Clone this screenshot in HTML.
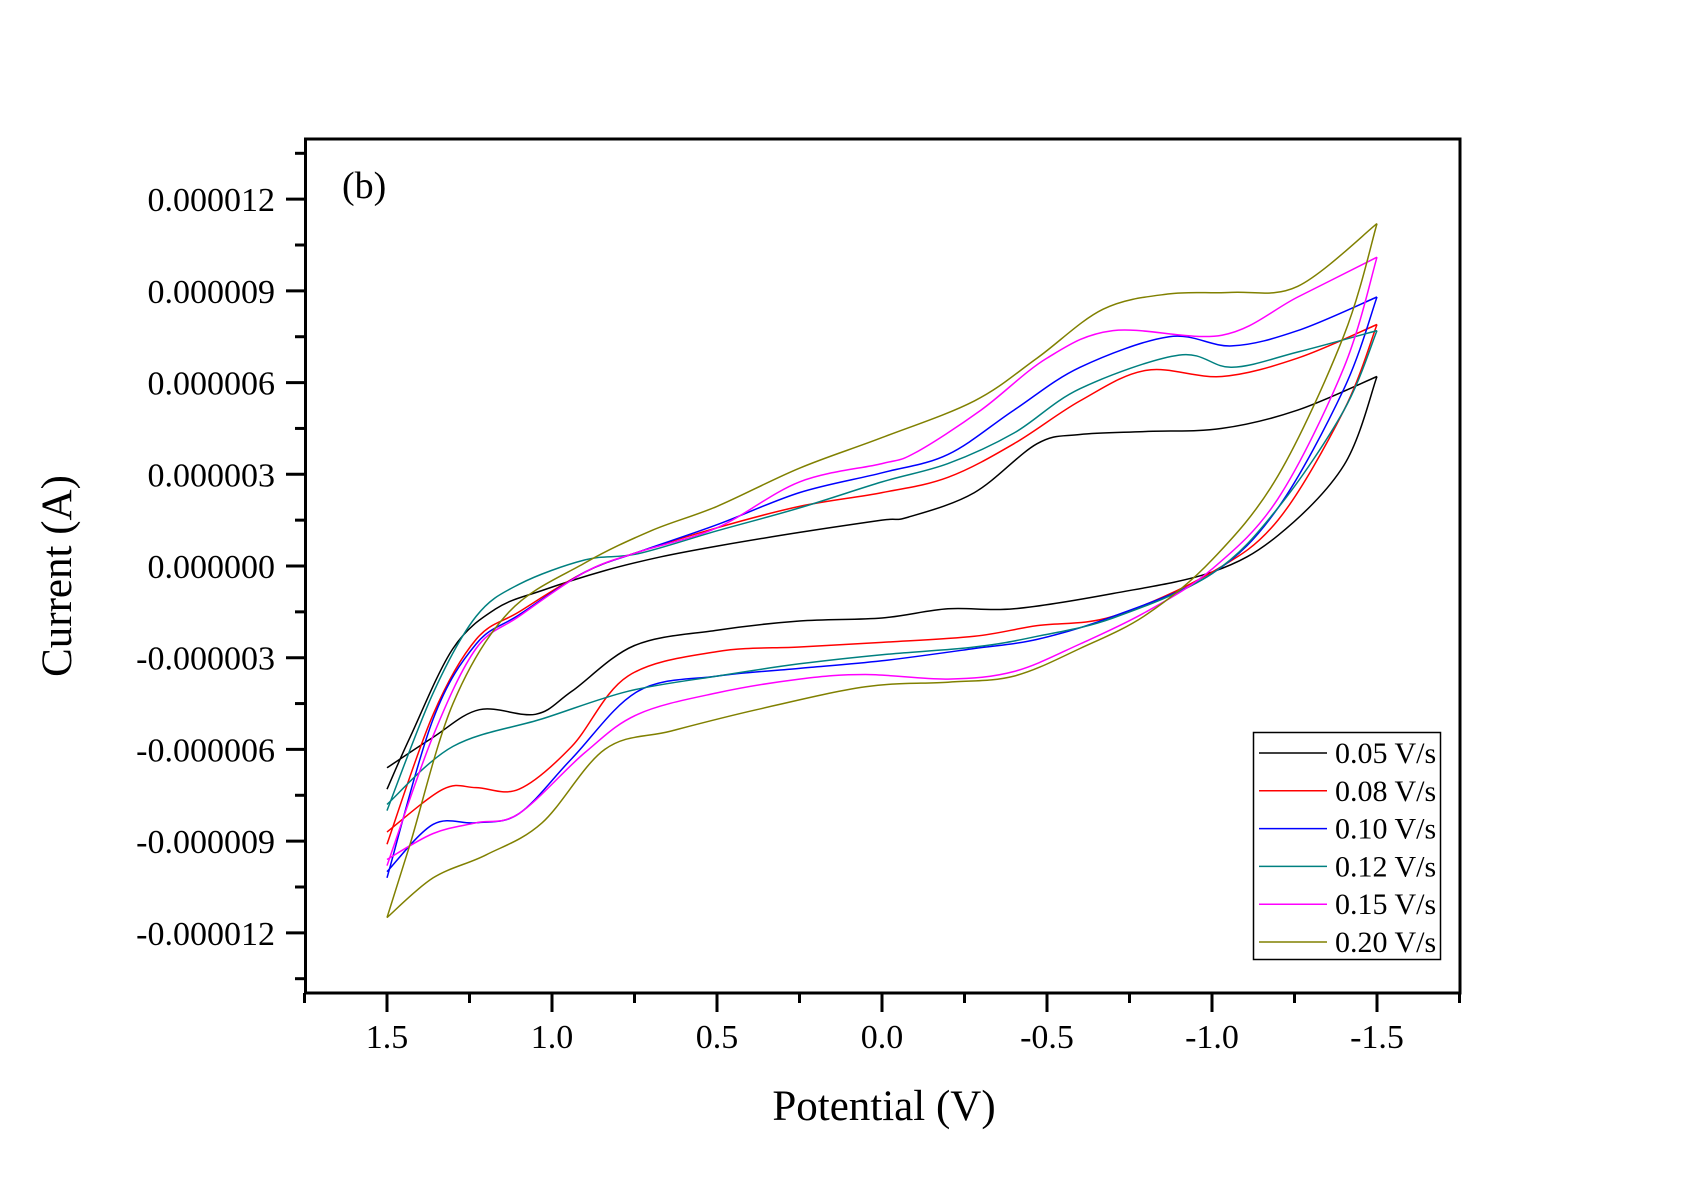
<!DOCTYPE html>
<html><head><meta charset="utf-8"><style>
html,body{margin:0;padding:0;background:#fff;}
svg{display:block;font-family:"Liberation Serif",serif;}
</style></head><body>
<svg id="chart" width="1695" height="1191" viewBox="0 0 1695 1191" xmlns="http://www.w3.org/2000/svg">
<rect width="1695" height="1191" fill="#fff"/>
<g id="series"></g>
<rect x="305.5" y="139" width="1154.5" height="854" fill="none" stroke="#000" stroke-width="3"/>
<g id="ticks"></g>
<text x="342" y="198" font-size="38">(b)</text>
<text x="884" y="1120" font-size="43" text-anchor="middle">Potential (V)</text>
<text transform="translate(71,576) rotate(-90)" font-size="43" text-anchor="middle">Current (A)</text>
<g id="legend">
<rect x="1253.5" y="732.5" width="187" height="227" fill="#fff" stroke="#000" stroke-width="1.5"/>
</g>
</svg>
<script>
const labels=["0.05 V/s","0.08 V/s","0.10 V/s","0.12 V/s","0.15 V/s","0.20 V/s"];
const colors=["#000000","#ff0000","#0000ff","#008080","#ff00ff","#808000"];
// branch A: from 1.5 V toward -1.5 V ; branch B: from -1.5 V back to 1.5 V (current in µA)
const aV=[
[1.5,1.36,1.22,1.05,0.94,0.75,0.5,0.25,0,-0.2,-0.4,-0.7,-1.0,-1.2,-1.4,-1.5],
[1.5,1.33,1.23,1.1,0.94,0.77,0.5,0.25,0,-0.28,-0.47,-0.7,-1.0,-1.2,-1.4,-1.5],
[1.5,1.36,1.23,1.1,0.94,0.74,0.5,0.25,0,-0.28,-0.47,-0.7,-1.0,-1.2,-1.4,-1.5],
[1.5,1.3,1.03,0.77,0.5,0.25,0,-0.28,-0.47,-0.7,-1.0,-1.2,-1.4,-1.5],
[1.5,1.36,1.23,1.1,0.9,0.74,0.5,0.25,0.05,-0.2,-0.4,-0.6,-0.8,-1.0,-1.2,-1.4,-1.5],
[1.5,1.36,1.2,1.03,0.84,0.64,0.38,0.05,-0.2,-0.4,-0.6,-0.8,-1.0,-1.2,-1.4,-1.5]];
const aI=[
[-6.6,-5.6,-4.7,-4.85,-4.1,-2.6,-2.1,-1.8,-1.7,-1.4,-1.4,-0.9,-0.2,1.0,3.3,6.2],
[-8.7,-7.3,-7.25,-7.3,-5.9,-3.6,-2.8,-2.65,-2.5,-2.3,-1.95,-1.65,-0.2,1.5,5.1,7.9],
[-10.0,-8.45,-8.4,-8.1,-6.3,-4.1,-3.6,-3.35,-3.1,-2.7,-2.4,-1.65,-0.25,1.9,5.8,8.8],
[-7.8,-5.9,-5.0,-4.1,-3.6,-3.2,-2.9,-2.65,-2.3,-1.7,-0.25,1.9,5.1,7.7],
[-9.6,-8.75,-8.4,-8.1,-6.1,-4.85,-4.15,-3.7,-3.55,-3.7,-3.45,-2.55,-1.5,-0.1,2.2,6.5,10.1],
[-11.5,-10.2,-9.45,-8.4,-6.0,-5.4,-4.7,-3.95,-3.8,-3.6,-2.7,-1.6,0.2,2.95,7.55,11.2]];
const bV=[
[-1.5,-1.26,-1.03,-0.8,-0.6,-0.47,-0.28,-0.08,0,0.25,0.5,0.67,0.84,1.03,1.17,1.3,1.43,1.5],
[-1.5,-1.26,-1.03,-0.8,-0.6,-0.4,-0.2,0,0.25,0.5,0.74,0.9,1.1,1.23,1.36,1.5],
[-1.5,-1.26,-1.06,-0.87,-0.6,-0.4,-0.2,0,0.25,0.5,0.74,0.9,1.1,1.23,1.36,1.5],
[-1.5,-1.26,-1.06,-0.9,-0.6,-0.4,-0.2,0,0.25,0.5,0.74,0.9,1.1,1.23,1.36,1.5],
[-1.5,-1.26,-1.03,-0.7,-0.5,-0.3,-0.1,0,0.25,0.5,0.74,0.9,1.1,1.23,1.36,1.5],
[-1.5,-1.26,-1.06,-0.87,-0.67,-0.47,-0.28,0,0.25,0.5,0.7,0.9,1.13,1.3,1.43,1.5]];
const bI=[
[6.2,5.1,4.5,4.4,4.3,4.0,2.4,1.6,1.5,1.1,0.65,0.3,-0.15,-0.8,-1.4,-2.7,-5.6,-7.3],
[7.9,6.8,6.2,6.4,5.4,4.0,2.9,2.4,1.95,1.25,0.45,-0.2,-1.5,-2.4,-4.85,-9.1],
[8.8,7.7,7.2,7.5,6.5,5.1,3.65,3.05,2.4,1.35,0.45,-0.2,-1.6,-2.55,-5.0,-10.2],
[7.7,7.0,6.5,6.9,5.8,4.35,3.35,2.75,1.9,1.15,0.4,0.2,-0.6,-1.65,-4.15,-8.0],
[10.1,8.8,7.55,7.7,6.8,5.1,3.7,3.35,2.75,1.25,0.45,-0.2,-1.65,-2.7,-5.55,-9.8],
[11.2,9.15,8.95,8.9,8.4,6.8,5.4,4.2,3.2,1.95,1.15,0.1,-1.5,-4.5,-9.1,-11.5]];
const xTicks=[1.5,1.0,0.5,0.0,-0.5,-1.0,-1.5];
const xTickLabels=["1.5","1.0","0.5","0.0","-0.5","-1.0","-1.5"];
const yTicks=[12,9,6,3,0,-3,-6,-9,-12];
const yTickLabels=["0.000012","0.000009","0.000006","0.000003","0.000000","-0.000003","-0.000006","-0.000009","-0.000012"];

const NS="http://www.w3.org/2000/svg";
function xs(v){return 387+(1.5-v)*330;}
function ys(i){return 566-i*30.57;}
function path(pts){
  let d="M"+pts[0][0].toFixed(1)+","+pts[0][1].toFixed(1);
  for(let k=0;k<pts.length-1;k++){
    const p0=pts[Math.max(0,k-1)],p1=pts[k],p2=pts[k+1],p3=pts[Math.min(pts.length-1,k+2)];
    const c1=[p1[0]+(p2[0]-p0[0])/6,p1[1]+(p2[1]-p0[1])/6];
    const c2=[p2[0]-(p3[0]-p1[0])/6,p2[1]-(p3[1]-p1[1])/6];
    d+=" C"+c1[0].toFixed(1)+","+c1[1].toFixed(1)+" "+c2[0].toFixed(1)+","+c2[1].toFixed(1)+" "+p2[0].toFixed(1)+","+p2[1].toFixed(1);
  }
  return d;
}
const sg=document.getElementById("series");
for(let s=0;s<labels.length;s++){
  const a=aV[s].map((v,k)=>[xs(v),ys(aI[s][k])]);
  const b=bV[s].map((v,k)=>[xs(v),ys(bI[s][k])]);
  const p1=document.createElementNS(NS,"path");
  p1.setAttribute("d",path(a));
  p1.setAttribute("fill","none");p1.setAttribute("stroke",colors[s]);p1.setAttribute("stroke-width","1.5");
  
  
  sg.appendChild(p1);
  const p2=document.createElementNS(NS,"path");
  p2.setAttribute("d",path(b));
  p2.setAttribute("fill","none");p2.setAttribute("stroke",colors[s]);p2.setAttribute("stroke-width","1.5");
  
  
  sg.appendChild(p2);
}
const tg=document.getElementById("ticks");
function line(x1,y1,x2,y2,name){
  const l=document.createElementNS(NS,"line");
  l.setAttribute("x1",x1);l.setAttribute("y1",y1);l.setAttribute("x2",x2);l.setAttribute("y2",y2);
  l.setAttribute("stroke","#000");l.setAttribute("stroke-width","3");
  
  
  tg.appendChild(l);
}
function text(x,y,str,anchor,size,name){
  const t=document.createElementNS(NS,"text");
  t.setAttribute("x",x);t.setAttribute("y",y);t.setAttribute("text-anchor",anchor);t.setAttribute("font-size",size);
  t.textContent=str;
  
  
  tg.appendChild(t);
}
xTicks.forEach((v,k)=>{
  const x=xs(v);
  line(x,993,x,1012,"x-tick");
  text(x,1048,xTickLabels[k],"middle",34,"x-tick-label");
});
for(let v=1.75;v>=-1.751;v-=0.5){line(xs(v),993,xs(v),1003,"x-minor-tick");}
yTicks.forEach((v,k)=>{
  const y=ys(v);
  line(305,y,286,y,"y-tick");
  text(275,y+12,yTickLabels[k],"end",34,"y-tick-label");
});
for(let v=13.5;v>=-13.6;v-=3){line(305,ys(v),295,ys(v),"y-minor-tick");}
const lg=document.getElementById("legend");
labels.forEach((lab,k)=>{
  const y=753+k*37.8;
  const l=document.createElementNS(NS,"line");
  l.setAttribute("x1",1259);l.setAttribute("x2",1327);l.setAttribute("y1",y);l.setAttribute("y2",y);
  l.setAttribute("stroke",colors[k]);l.setAttribute("stroke-width","1.5");
  
  
  lg.appendChild(l);
  const t=document.createElementNS(NS,"text");
  t.setAttribute("x",1335);t.setAttribute("y",y+10);t.setAttribute("font-size",30);
  t.textContent=lab;
  
  
  lg.appendChild(t);
});
</script>
</body></html>
